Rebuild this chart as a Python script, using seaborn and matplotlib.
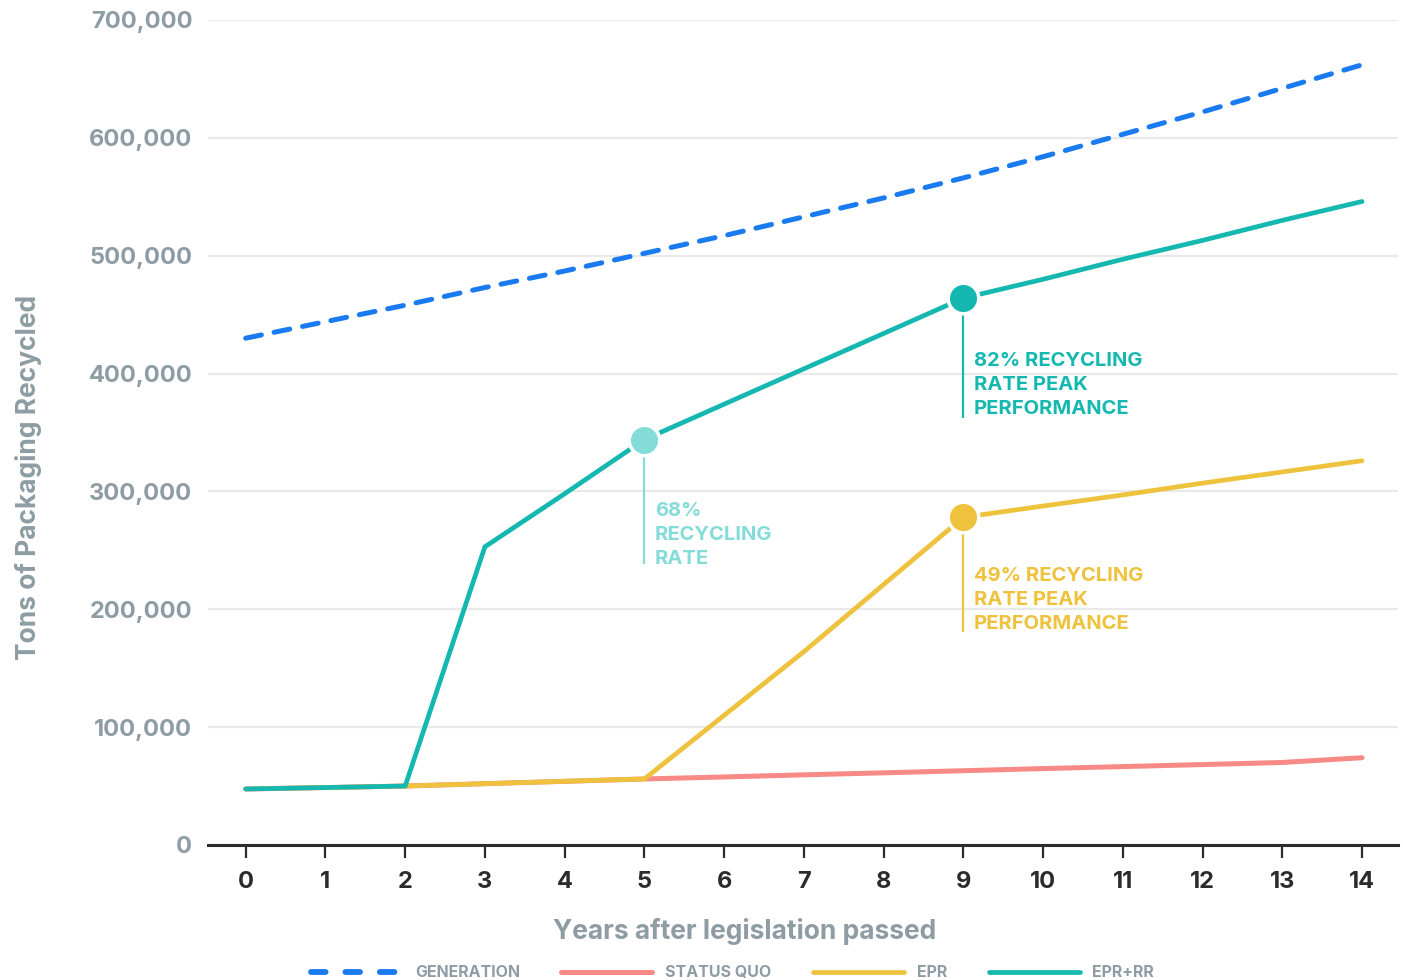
import numpy as np
import pandas as pd
import matplotlib
matplotlib.use("Agg")
import matplotlib.pyplot as plt
import seaborn as sns

# Years after legislation and tons of packaging per scenario
years = list(range(15))
generation = [430000, 444000, 458000, 473000, 487000, 502000, 517000, 533000,
              549000, 566000, 584000, 603000, 622000, 642000, 662000]
status_quo = [47500, 48700, 50000, 52000, 54000, 56000, 57700, 59500,
              61200, 63000, 64800, 66500, 68200, 70000, 74000]
epr = [47500, 48700, 50000, 52000, 54000, 56000, 110000, 164000,
       221000, 278000, 287600, 297000, 307000, 316500, 326000]
epr_rr = [47500, 48700, 50000, 253000, 298000, 344000, 374000, 404000,
          434000, 464000, 480000, 497000, 513000, 530000, 546000]

series_names = ["GENERATION", "STATUS QUO", "EPR", "EPR+RR"]
y_ticks = [0, 100000, 200000, 300000, 400000, 500000, 600000, 700000]

# Callouts: (year, series, label)
callouts = [
    (5, "EPR+RR", "68%\nRECYCLING\nRATE"),
    (9, "EPR+RR", "82% RECYCLING\nRATE PEAK\nPERFORMANCE"),
    (9, "EPR", "49% RECYCLING\nRATE PEAK\nPERFORMANCE"),
]

BLUE = "#1a7bf0"
SALMON = "#f78a86"
YELLOW = "#eec23c"
TEAL = "#14b8b1"
LIGHT_TEAL = "#84dcd8"
GRAY = "#8e9ca4"
DARK = "#2b2b2b"

colors = {"GENERATION": BLUE, "STATUS QUO": SALMON, "EPR": YELLOW, "EPR+RR": TEAL}
widths = {"GENERATION": 3.6, "STATUS QUO": 3.6, "EPR": 3.4, "EPR+RR": 3.4}
callout_colors = [LIGHT_TEAL, TEAL, YELLOW]
# drop-line length (tons) and label offset below the marker (points)
drops = [106000, 102000, 97000]
text_offsets = [-45, -39, -36]

df = pd.DataFrame({
    "year": years * 4,
    "tons": generation + status_quo + epr + epr_rr,
    "series": sum([[n] * len(years) for n in series_names], []),
})

sns.set_theme(style="white")
plt.rcParams["font.family"] = ["Inter", "DejaVu Sans"]

fig = plt.figure(figsize=(14.03, 9.80), dpi=100)
ax = fig.add_axes([0.148, 0.1378, 0.8484, 0.8418])

for name in series_names:
    sub = df[df["series"] == name]
    ls = (0, (3.2, 2.6)) if name == "GENERATION" else "-"
    sns.lineplot(data=sub, x="year", y="tons", ax=ax, color=colors[name],
                 linewidth=widths[name], linestyle=ls, label=name,
                 solid_capstyle="round", dash_capstyle="round", zorder=3)

# Callout markers with drop lines and labels
lookup = {"EPR+RR": epr_rr, "EPR": epr}
for (yr, sname, text), col, drop, off in zip(callouts, callout_colors, drops, text_offsets):
    val = lookup[sname][yr]
    ax.plot([yr, yr], [val, val - drop], color=col, linewidth=1.6, zorder=4,
            solid_capstyle="butt")
    ax.plot([yr], [val], marker="o", markersize=22, color=col,
            markeredgecolor="white", markeredgewidth=2.5, zorder=5)
    ax.annotate(text, xy=(yr, val), xytext=(7.5, off), textcoords="offset points",
                color=col, fontsize=14.5, fontweight="bold", va="top", ha="left",
                linespacing=1.42, zorder=6)

ax.set_xlim(-0.477, 14.45)
ax.set_ylim(0, 700000)
ax.set_xticks(years)
ax.set_yticks(y_ticks)
ax.set_yticklabels([f"{v:,}" for v in y_ticks])
ax.grid(axis="y", color="#e9e9e9", linewidth=1.6)
ax.set_axisbelow(True)

for side in ["top", "right", "left"]:
    ax.spines[side].set_visible(False)
ax.spines["bottom"].set_color(DARK)
ax.spines["bottom"].set_linewidth(2.2)

ax.tick_params(axis="x", bottom=True, direction="out", length=9, width=1.6,
               color=DARK, labelsize=17, labelcolor=DARK, pad=10)
ax.tick_params(axis="y", left=False, labelsize=17, labelcolor=GRAY, pad=5)
for lbl in ax.get_xticklabels():
    lbl.set_fontweight("bold")
for lbl in ax.get_yticklabels():
    lbl.set_fontweight("bold")

ax.set_xlabel("Years after legislation passed", fontsize=19, fontweight="bold",
              color=GRAY)
ax.xaxis.set_label_coords(0.451, -0.089)
ax.set_ylabel("Tons of Packaging Recycled", fontsize=19, fontweight="bold",
              color=GRAY)
ax.yaxis.set_label_coords(-0.1395, 0.445)

leg = ax.legend(loc="center", bbox_to_anchor=(0.441, -0.155), ncol=4,
                frameon=False, handlelength=5.7, handletextpad=0.8,
                columnspacing=2.6, prop={"size": 11.5, "weight": "bold"})
for t in leg.get_texts():
    t.set_color(GRAY)
gen_handle = leg.legend_handles[0]
gen_handle.set_linewidth(4.2)
gen_handle.set_linestyle((0, (2.5, 3.4)))

fig.savefig("out.png", dpi=100, facecolor="white")
